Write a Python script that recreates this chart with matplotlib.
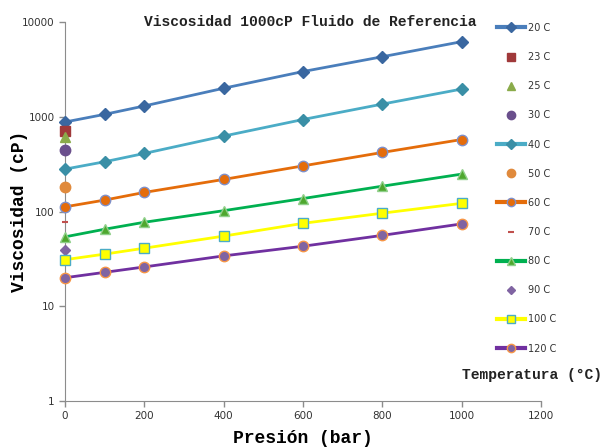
import numpy as np
import matplotlib
matplotlib.use("Agg")
import matplotlib.pyplot as plt

presion = [0, 100, 200, 400, 600, 800, 1000]

v20 = [880, 1060, 1300, 2000, 3000, 4300, 6200]
v23 = [700]
v25 = [610]
v30 = [450]
v40 = [280, 335, 410, 625, 935, 1360, 1960]
v50 = [180]
v60 = [112, 132, 159, 218, 303, 420, 575]
v70 = [77]
v80 = [54, 65, 77, 102, 137, 185, 248]
v90 = [39]
v100 = [31, 35.5, 41, 55, 75, 96, 122]
v120 = [20, 22.8, 26, 34, 43, 56, 74]

mono = "Liberation Mono"

fig = plt.figure(figsize=(6.04, 4.47), dpi=100)
ax = fig.add_axes([65/604, 1-401/447, 476/604, 379/447])

# (label, values, line colour, marker, face, edge, size)
series = [
    ("20 C", v20, "#4a7ebb", "D", "#3a67a0", "#3a67a0", 6),
    ("23 C", v23, None, "s", "#a0393a", "#a0393a", 7),
    ("25 C", v25, None, "^", "#8aab4a", "#8aab4a", 7.5),
    ("30 C", v30, None, "o", "#6a4f8c", "#6a4f8c", 7.5),
    ("40 C", v40, "#4bacc6", "D", "#3a8fa6", "#3a8fa6", 6),
    ("50 C", v50, None, "o", "#e08a3c", "#e08a3c", 7.5),
    ("60 C", v60, "#e46c0a", "o", "#e46c0a", "#7f8fc8", 7.5),
    ("70 C", v70, None, "_", "#c0504d", "#c0504d", 5),
    ("80 C", v80, "#00b050", "^", "#4ea72e", "#8fd08a", 7.5),
    ("90 C", v90, None, "D", "#8064a2", "#8064a2", 5.5),
    ("100 C", v100, "#ffff00", "s", "#ffff00", "#4bacc6", 7),
    ("120 C", v120, "#7030a0", "o", "#8064a2", "#f79646", 7.5),
]

for lab, vals, lc, mk, fc, ec, ms in series:
    xs = presion[:len(vals)]
    if lc is None:
        ax.plot(xs, vals, linestyle="none", marker=mk, markerfacecolor=fc,
                markeredgecolor=ec, markersize=ms, mew=1.5 if mk == "_" else 1,
                label=lab, clip_on=False, zorder=3)
    else:
        ax.plot(xs, vals, color=lc, linewidth=2, marker=mk, markerfacecolor=fc,
                markeredgecolor=ec, markersize=ms, mew=1,
                label=lab, clip_on=False, zorder=3)

ax.set_yscale("log")
ax.set_ylim(1, 10000)
ax.set_xlim(0, 1200)
ax.set_xticks([0, 200, 400, 600, 800, 1000, 1200])
ax.set_yticks([1, 10, 100, 1000, 10000])
ax.set_yticklabels(["1", "10", "100", "1000", "10000"])
ax.yaxis.set_minor_locator(matplotlib.ticker.NullLocator())

for s in ["top", "right"]:
    ax.spines[s].set_visible(False)
for s in ["left", "bottom"]:
    ax.spines[s].set_color("#8c8c8c")
ax.tick_params(axis="both", colors="#8c8c8c", labelcolor="#333333",
               labelsize=7.5, length=4, width=1)

ax.set_xlabel("Presión (bar)", family=mono, fontweight="bold", fontsize=13, labelpad=6)
fig.text(20/604, 1-211/447, "Viscosidad (cP)", family=mono, fontweight="bold",
         fontsize=13, rotation=90, ha="center", va="center")

fig.text(310/604, 1-22/447, "Viscosidad 1000cP Fluido de Referencia", family=mono,
         fontweight="bold", fontsize=10.5, ha="center", va="center", color="#222222")
fig.text(602/604, 1-375/447, "Temperatura (°C)", family=mono, fontweight="bold",
         fontsize=10.5, ha="right", va="center", color="#222222")

leg = fig.legend(loc="upper left", bbox_to_anchor=(493/604, 1-19/447), frameon=False,
                 fontsize=7, labelspacing=1.97, handlelength=2.9, handletextpad=0.3,
                 borderaxespad=0, markerscale=0.8)
for t in leg.get_texts():
    t.set_color("#333333")
for h in leg.legend_handles:
    if h.get_linestyle() not in ("None", "none"):
        h.set_linewidth(3)

fig.savefig("out.png", dpi=100)
